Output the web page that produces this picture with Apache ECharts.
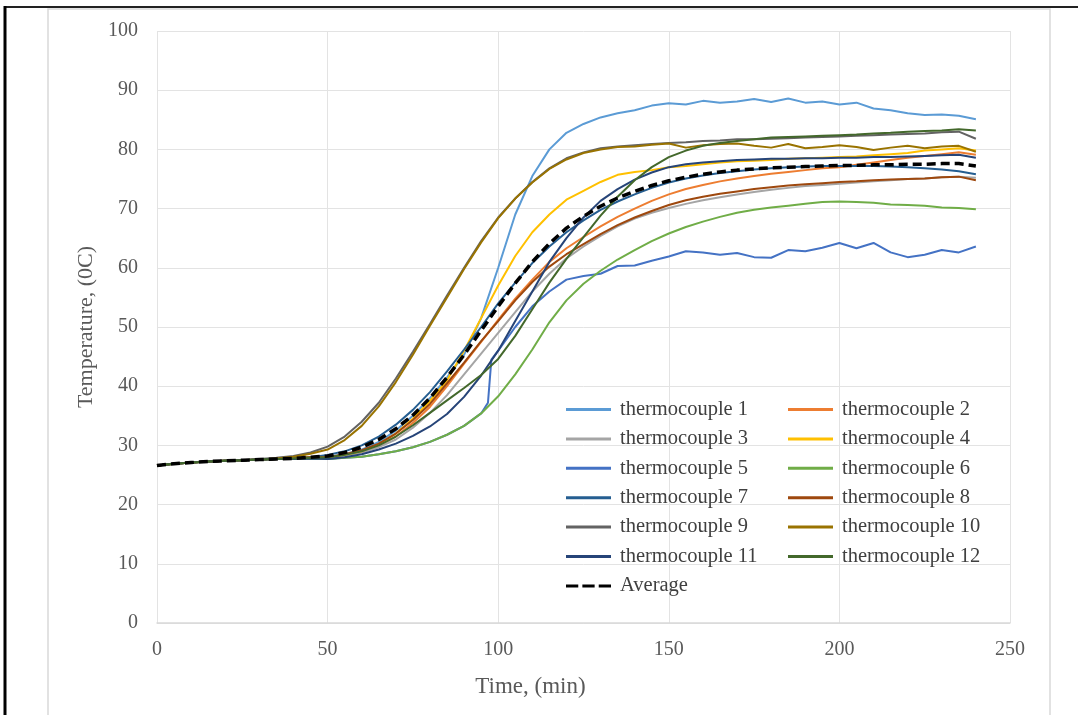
<!DOCTYPE html>
<html>
<head>
<meta charset="utf-8">
<script src="https://cdn.jsdelivr.net/npm/echarts@6/dist/echarts.min.js"></script>
<style>html,body{margin:0;padding:0;background:#fff}#c{width:1078px;height:715px}</style>
</head>
<body>
<div id="c"></div>
<script>
// time (min), 5-minute steps 0..240
var time = [0,5,10,15,20,25,30,35,40,45,50,55,60,65,70,75,80,85,90,95,100,105,110,115,120,125,130,135,140,145,150,155,160,165,170,175,180,185,190,195,200,205,210,215,220,225,230,235,240];
// thermocouple 5 has its own time stamps (jump near 97 min)
var tc5Time = [0,5,10,15,20,25,30,35,40,45,50,55,60,65,70,75,80,85,90,95,97,98,100,105,110,115,120,125,130,135,140,145,150,155,160,165,170,175,180,185,190,195,200,205,210,215,220,225,230,235,240];

var tc1 = [26.6,26.9,27.1,27.3,27.4,27.5,27.6,27.7,27.8,28.0, 28.1,28.5,29.3,30.6,32.5,35.0,38.0,41.5,45.3,51.5,60.0, 69.0,75.5,80.0,82.8,84.3,85.4,86.1,86.6,87.4,87.8, 87.6,88.2,87.9,88.1,88.5,88.0,88.6,87.9,88.1,87.6, 87.9,86.9,86.6,86.1,85.8,85.9,85.7,85.1];
var tc2 = [26.6,26.9,27.1,27.3,27.4,27.5,27.6,27.7,27.8,28.0, 28.0,28.4,29.0,30.0,31.5,33.8,36.5,40.0,43.8,47.5,51.2, 54.8,58.0,61.0,63.3,65.2,67.0,68.6,70.0,71.3,72.4, 73.3,74.0,74.6,75.1,75.5,75.9,76.2,76.5,76.8,77.0, 77.4,77.8,78.2,78.6,78.9,79.2,79.5,79.1];
var tc3 = [26.6,26.9,27.1,27.3,27.4,27.5,27.6,27.7,27.8,28.0, 28.0,28.3,28.8,29.7,31.0,33.0,35.5,38.5,42.0,45.5,49.0, 52.5,56.0,59.0,61.6,63.6,65.4,67.0,68.3,69.3,70.1, 70.8,71.4,71.9,72.4,72.8,73.2,73.5,73.8,74.0,74.2, 74.4,74.6,74.8,75.0,75.1,75.3,75.4,75.2];
var tc4 = [26.6,26.9,27.1,27.3,27.4,27.5,27.6,27.7,27.8,28.0, 28.0,28.4,29.0,30.2,32.0,34.5,37.5,41.0,46.0,51.5,57.0, 62.0,66.0,69.0,71.5,73.0,74.5,75.7,76.2,76.5,77.0, 77.2,77.5,77.8,78.0,78.1,78.2,78.4,78.5,78.6,78.7, 78.8,79.0,79.2,79.4,79.8,80.0,80.2,79.8];
var tc5 = [26.6,26.9,27.1,27.3,27.4,27.5,27.6,27.7,27.7,27.8, 27.7,27.9,28.1,28.5,29.0,29.7,30.6,31.8,33.3,35.4,37.2,44.5, 46.0,50.0,53.5,56.0,58.0,58.6,59.0,60.3,60.4,61.2,61.9, 62.8,62.6,62.2,62.5,61.8,61.7,63.0,62.8,63.4,64.2, 63.3,64.2,62.6,61.8,62.2,63.0,62.6,63.6];
var tc6 = [26.6,26.9,27.1,27.3,27.4,27.5,27.6,27.7,27.7,27.8, 27.7,27.9,28.1,28.5,29.0,29.7,30.6,31.8,33.3,35.4,38.3, 42.0,46.2,50.8,54.5,57.3,59.5,61.4,63.0,64.5,65.8, 66.9,67.8,68.6,69.3,69.8,70.2,70.5,70.8,71.1,71.2, 71.1,71.0,70.7,70.6,70.5,70.2,70.1,69.9];
var tc7 = [26.6,26.9,27.1,27.3,27.4,27.5,27.6,27.7,27.8,28.0, 28.4,29.0,30.0,31.5,33.5,36.0,39.0,42.5,46.2,50.0,54.0, 57.5,60.8,63.6,66.0,68.0,69.8,71.2,72.4,73.5,74.4, 75.1,75.6,76.0,76.3,76.6,76.8,77.0,77.1,77.2,77.2, 77.2,77.2,77.1,77.0,76.8,76.6,76.3,75.8];
var tc8 = [26.6,26.9,27.1,27.3,27.4,27.5,27.6,27.7,27.8,28.0, 28.0,28.5,29.2,30.3,32.0,34.3,37.0,40.5,44.0,47.6,51.0, 54.5,57.6,60.2,62.3,64.0,65.7,67.2,68.5,69.6,70.6, 71.4,72.0,72.5,72.9,73.3,73.6,73.9,74.1,74.3,74.5, 74.6,74.8,74.9,75.0,75.1,75.3,75.4,74.8];
var tc9 = [26.6,26.9,27.1,27.3,27.4,27.5,27.7,27.9,28.2,28.8, 29.8,31.5,34.0,37.2,41.3,45.8,50.5,55.3,60.0,64.5,68.5, 71.7,74.5,76.8,78.5,79.5,80.2,80.5,80.7,80.9,81.1, 81.2,81.4,81.5,81.7,81.7,81.8,81.9,82.0,82.1,82.2, 82.3,82.4,82.5,82.6,82.7,82.9,83.0,81.8];
var tc10 = [26.6,26.9,27.1,27.3,27.4,27.5,27.6,27.8,28.1,28.6, 29.3,30.9,33.3,36.6,40.7,45.3,50.2,55.0,59.8,64.3,68.4, 71.7,74.4,76.7,78.3,79.4,80.0,80.4,80.5,80.8,81.0, 80.3,80.7,80.9,81.0,80.6,80.3,80.9,80.2,80.4,80.7, 80.4,79.9,80.3,80.6,80.2,80.5,80.6,79.6];
var tc11 = [26.6,26.9,27.1,27.3,27.4,27.5,27.6,27.7,27.7,27.8, 27.7,28.0,28.5,29.3,30.3,31.6,33.2,35.3,38.2,41.8,46.0, 51.0,56.0,61.0,65.0,68.5,71.3,73.3,74.9,76.1,77.0, 77.5,77.8,78.0,78.2,78.3,78.4,78.4,78.5,78.5,78.6, 78.6,78.7,78.7,78.8,78.9,79.0,79.1,78.6];
var tc12 = [26.6,26.9,27.1,27.3,27.4,27.5,27.6,27.7,27.8,27.9, 28.0,28.4,29.0,30.0,31.5,33.4,35.5,37.6,39.7,41.9,44.6, 48.5,53.0,57.5,61.5,65.2,68.8,72.0,74.8,77.0,78.7, 79.8,80.6,81.1,81.4,81.7,82.0,82.1,82.2,82.3,82.4, 82.5,82.7,82.8,83.0,83.1,83.2,83.4,83.2];
var average = [26.6,26.9,27.1,27.3,27.4,27.5,27.6,27.7,27.8,28.0, 28.2,28.8,29.7,31.0,32.8,35.1,38.0,41.5,45.3,49.4,53.5, 57.4,61.0,64.1,66.7,68.7,70.4,71.8,72.9,73.9,74.7, 75.3,75.8,76.2,76.5,76.7,76.9,77.0,77.1,77.2,77.3, 77.3,77.4,77.4,77.5,77.5,77.6,77.6,77.2];

var xTicks = [0,50,100,150,200,250];
var yTicks = [0,10,20,30,40,50,60,70,80,90,100];

var names = ['thermocouple 1','thermocouple 2','thermocouple 3','thermocouple 4','thermocouple 5','thermocouple 6','thermocouple 7','thermocouple 8','thermocouple 9','thermocouple 10','thermocouple 11','thermocouple 12','Average'];
var colors = ['#5B9BD5','#ED7D31','#A5A5A5','#FFC000','#4472C4','#70AD47','#255E91','#9E480E','#636363','#997300','#264478','#43682B','#000000'];
var values = [tc1,tc2,tc3,tc4,tc5,tc6,tc7,tc8,tc9,tc10,tc11,tc12,average];

function pairs(t, v){ return t.map(function(x,i){ return [x, v[i]]; }); }

var series = values.map(function(v, i){
  var isAvg = names[i] === 'Average';
  return {
    name: names[i],
    type: 'line',
    data: pairs(names[i] === 'thermocouple 5' ? tc5Time : time, v),
    symbol: 'none',
    smooth: false,
    z: isAvg ? 5 : 2,
    lineStyle: { color: colors[i], width: isAvg ? 3.5 : 2, type: isAvg ? [9,5] : 'solid' },
    itemStyle: { color: colors[i] }
  };
});

var font = 'Liberation Serif';
var dashIcon = 'path://M0,0h12v4h-12z M16,0h12v4h-12z M32,0h12v4h-12z';
function legendItems(list){
  return list.map(function(n){ return { name:n, icon: n === 'Average' ? dashIcon : 'rect' }; });
}
var legendCommon = { orient:'vertical', top:399, itemWidth:45, itemHeight:3, itemGap:8.4,
  symbolKeepAspect:false, padding:0,
  textStyle:{ fontFamily:font, fontSize:20.5, color:'#404040', padding:[0,0,0,4] } };

var chart = echarts.init(document.getElementById('c'), null, {renderer:'canvas'});
chart.setOption({
  animation: false,
  backgroundColor: '#ffffff',
  graphic: [
    { type:'rect', shape:{x:48, y:9, width:1002, height:720}, style:{fill:'none', stroke:'#d9d9d9', lineWidth:1.5}, silent:true, z:-10 },
    { type:'line', shape:{x1:4, y1:7, x2:1078, y2:7}, style:{stroke:'#222', lineWidth:2}, silent:true },
    { type:'line', shape:{x1:5, y1:6, x2:5, y2:715}, style:{stroke:'#000', lineWidth:3}, silent:true }
  ],
  grid: { left:157, right:68, top:31, bottom:92, containLabel:false },
  xAxis: {
    type:'value', min:0, max:250, interval:50,
    name:'Time, (min)', nameLocation:'middle', nameGap:52,
    nameTextStyle:{ fontFamily:font, fontSize:23, color:'#595959', padding:[0,106,0,0] },
    axisLine:{ show:true, lineStyle:{ color:'#d9d9d9', width:1.5 } },
    axisTick:{ show:false },
    axisLabel:{ fontFamily:font, fontSize:20, color:'#595959', margin:17,
      formatter:function(v){ return xTicks.indexOf(v) >= 0 ? String(v) : ''; } },
    splitLine:{ show:true, lineStyle:{ color:'#e3e3e3', width:1 } }
  },
  yAxis: {
    type:'value', min:0, max:100, interval:10,
    name:'Temperature, (0C)', nameLocation:'middle', nameGap:60, nameRotate:90,
    nameTextStyle:{ fontFamily:font, fontSize:22, color:'#595959' },
    axisLine:{ show:false },
    axisTick:{ show:false },
    axisLabel:{ fontFamily:font, fontSize:20, color:'#595959', margin:19,
      formatter:function(v){ return yTicks.indexOf(v) >= 0 ? String(v) : ''; } },
    splitLine:{ show:true, lineStyle:{ color:'#e3e3e3', width:1 } }
  },
  legend: [
    Object.assign({ left:566, data: legendItems(['thermocouple 1','thermocouple 3','thermocouple 5','thermocouple 7','thermocouple 9','thermocouple 11','Average']) }, legendCommon),
    Object.assign({ left:788, data: legendItems(['thermocouple 2','thermocouple 4','thermocouple 6','thermocouple 8','thermocouple 10','thermocouple 12']) }, legendCommon)
  ],
  series: series
});
</script>
</body>
</html>
